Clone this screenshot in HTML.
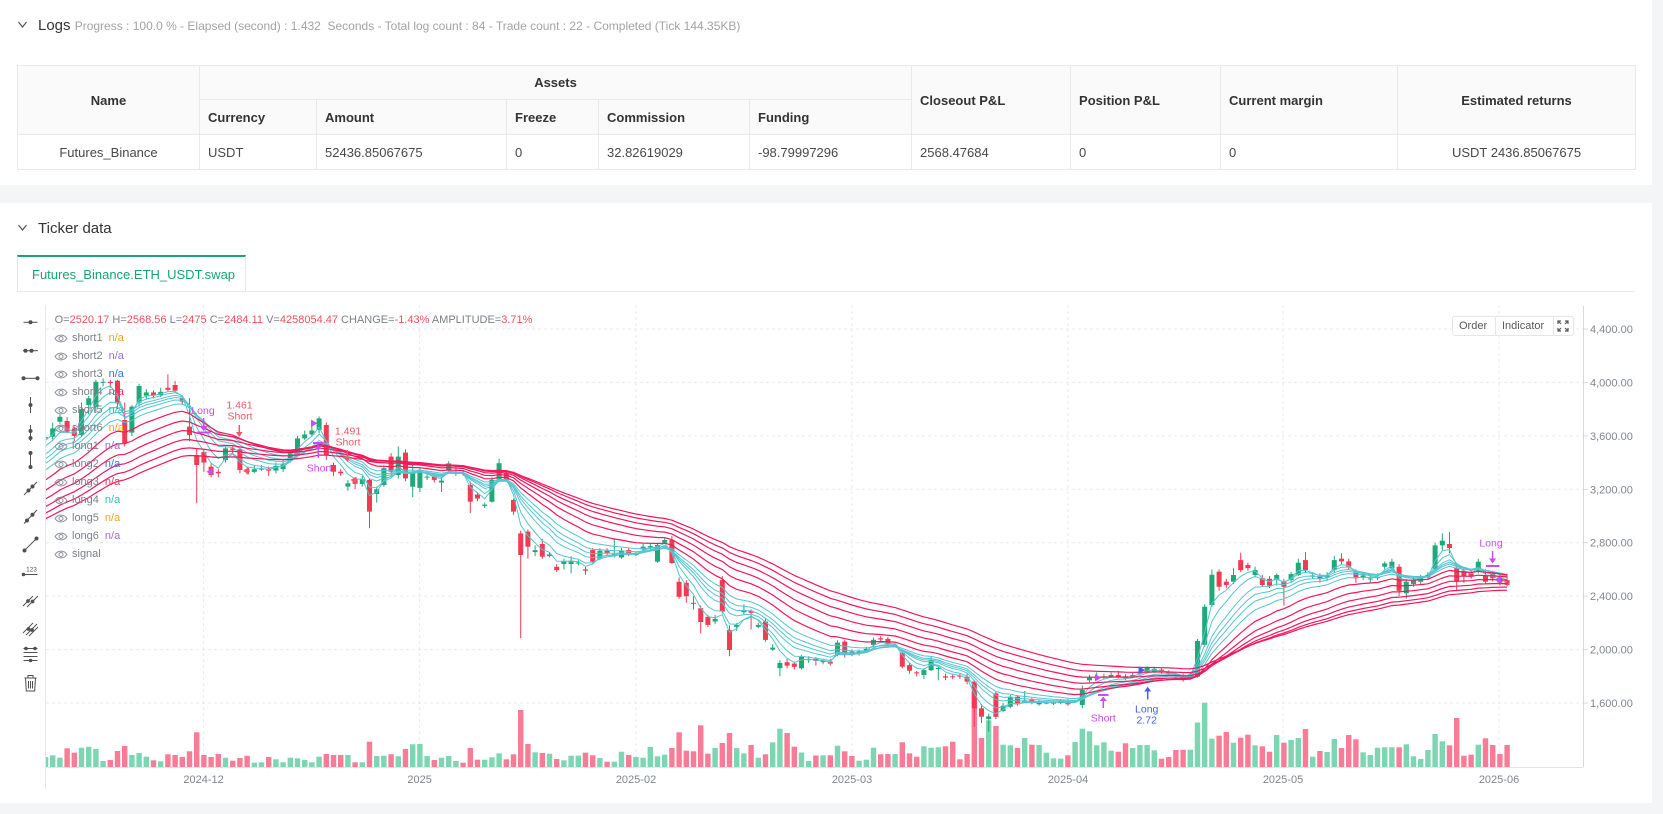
<!DOCTYPE html>
<html><head><meta charset="utf-8"><title>Ticker chart</title>
<style>
*{margin:0;padding:0;box-sizing:border-box}
html,body{width:1663px;height:814px;overflow:hidden}
body{background:#f4f5f7;font-family:"Liberation Sans",Arial,sans-serif;position:relative}
.card{position:absolute;left:0;width:1652px;background:#fff}
.t{position:absolute;white-space:nowrap}
table.tb{position:absolute;left:17px;top:65px;border-collapse:collapse;table-layout:fixed;width:1618px;font-size:13px;color:#484848}
.tb td,.tb th{border:1px solid #e9e9e9;padding:0 8px;text-align:left;overflow:hidden;white-space:nowrap}
.tb th{background:#fafafa;font-weight:bold;color:#333}
.tb .c{text-align:center}
.lg{position:absolute;left:54px;height:14px;font-size:11px;line-height:14px;color:#7b7f8b;white-space:nowrap;display:flex;align-items:center}
.lg svg{margin-right:4px}
.lg b{font-weight:normal;margin-left:6px}
.ohlc{position:absolute;left:54.6px;top:313px;font-size:11px;line-height:14px;color:#7b7f8b;white-space:nowrap}
.ohlc i{font-style:normal;color:#f0505c}
</style></head><body>
<div class="card" style="top:0;height:185px"></div>
<div class="card" style="top:203px;height:600px"></div>

<svg class="t" style="left:17px;top:20px" width="12" height="10"><polyline points="1.5,2 5.5,7 9.5,2" fill="none" stroke="#555" stroke-width="1.2"/></svg>
<div class="t" style="left:38px;top:16px;font-size:15px;color:#333;line-height:20px">Logs <span style="font-size:12px;color:#a3a3a3">Progress : 100.0 % - Elapsed (second) : 1.432&nbsp; Seconds - Total log count : 84 - Trade count : 22 - Completed (Tick 144.35KB)</span></div>

<table class="tb">
<colgroup><col style="width:182px"><col style="width:117px"><col style="width:190px"><col style="width:92px"><col style="width:151px"><col style="width:162px"><col style="width:159px"><col style="width:150px"><col style="width:177px"><col style="width:238px"></colgroup>
<tr style="height:34px"><th rowspan="2" class="c">Name</th><th colspan="5" class="c">Assets</th><th rowspan="2">Closeout P&amp;L</th><th rowspan="2">Position P&amp;L</th><th rowspan="2">Current margin</th><th rowspan="2" class="c">Estimated returns</th></tr>
<tr style="height:35px"><th>Currency</th><th>Amount</th><th>Freeze</th><th>Commission</th><th>Funding</th></tr>
<tr style="height:35px"><td class="c">Futures_Binance</td><td>USDT</td><td>52436.85067675</td><td>0</td><td>32.82619029</td><td>-98.79997296</td><td>2568.47684</td><td>0</td><td>0</td><td class="c">USDT 2436.85067675</td></tr>
</table>

<svg class="t" style="left:17px;top:223px" width="12" height="10"><polyline points="1.5,2 5.5,7 9.5,2" fill="none" stroke="#555" stroke-width="1.2"/></svg>
<div class="t" style="left:38px;top:219px;font-size:15px;color:#333;line-height:20px">Ticker data</div>

<div class="t" style="left:17px;top:255px;width:229px;height:37px;border-top:2px solid #17a673;border-left:1px solid #e8e8e8;border-right:1px solid #e8e8e8;color:#17a673;font-size:13px;line-height:35px;padding-left:14px">Futures_Binance.ETH_USDT.swap</div>
<div class="t" style="left:17px;top:291px;width:1618px;height:1px;background:#e8e8e8"></div>

<svg class="t" style="left:0;top:0" width="1663" height="814" font-family="Liberation Sans, Arial, sans-serif">
<defs><clipPath id="pc"><rect x="46" y="305" width="1537" height="462"/></clipPath></defs>
<g stroke="#e9ebef" stroke-width="1" stroke-dasharray="3,3">
<line x1="46" y1="329" x2="1583" y2="329"/><line x1="46" y1="382.4" x2="1583" y2="382.4"/><line x1="46" y1="435.9" x2="1583" y2="435.9"/><line x1="46" y1="489.3" x2="1583" y2="489.3"/><line x1="46" y1="542.7" x2="1583" y2="542.7"/><line x1="46" y1="596.1" x2="1583" y2="596.1"/><line x1="46" y1="649.6" x2="1583" y2="649.6"/><line x1="46" y1="703" x2="1583" y2="703"/>
<line x1="203.6" y1="305" x2="203.6" y2="767"/><line x1="419.6" y1="305" x2="419.6" y2="767"/><line x1="636" y1="305" x2="636" y2="767"/><line x1="852" y1="305" x2="852" y2="767"/><line x1="1068" y1="305" x2="1068" y2="767"/><line x1="1283" y1="305" x2="1283" y2="767"/><line x1="1499" y1="305" x2="1499" y2="767"/>
</g>
<line x1="45.5" y1="305" x2="45.5" y2="789" stroke="#e4e6ea"/>
<line x1="1583.5" y1="306" x2="1583.5" y2="767" stroke="#d6d9de"/>
<line x1="45.5" y1="767.5" x2="1583.5" y2="767.5" stroke="#e2e4e8"/>
<g stroke="#d6d9de"><line x1="1583" y1="329" x2="1588" y2="329"/><line x1="1583" y1="382.4" x2="1588" y2="382.4"/><line x1="1583" y1="435.9" x2="1588" y2="435.9"/><line x1="1583" y1="489.3" x2="1588" y2="489.3"/><line x1="1583" y1="542.7" x2="1588" y2="542.7"/><line x1="1583" y1="596.1" x2="1588" y2="596.1"/><line x1="1583" y1="649.6" x2="1588" y2="649.6"/><line x1="1583" y1="703" x2="1588" y2="703"/></g>
<g font-size="11" fill="#80858f">
<text x="1590" y="333">4,400.00</text><text x="1590" y="386.4">4,000.00</text><text x="1590" y="439.9">3,600.00</text><text x="1590" y="493.3">3,200.00</text><text x="1590" y="546.7">2,800.00</text><text x="1590" y="600.1">2,400.00</text><text x="1590" y="653.6">2,000.00</text><text x="1590" y="707">1,600.00</text>
</g>
<g font-size="11" fill="#80858f" text-anchor="middle">
<text x="203.6" y="783">2024-12</text><text x="419.6" y="783">2025</text><text x="636" y="783">2025-02</text><text x="852" y="783">2025-03</text><text x="1068" y="783">2025-04</text><text x="1283" y="783">2025-05</text><text x="1499" y="783">2025-06</text>
</g>
<g id="gc" clip-path="url(#pc)"></g>

<!-- markers -->
<g font-size="10.5" text-anchor="middle">
<text x="203" y="414" fill="#c94df2">Long</text>
<line x1="203.6" y1="418" x2="203.6" y2="428" stroke="#c94df2" stroke-width="1.5"/>
<path d="M199.6,426 L203.6,431 L207.6,426Z" fill="#c94df2"/>
<line x1="197" y1="432.5" x2="210.5" y2="432.5" stroke="#c94df2" stroke-width="2"/>
<text x="239.5" y="408.5" fill="#f2566a">1.461</text>
<text x="240" y="419.5" fill="#f2566a">Short</text>
<line x1="239.3" y1="425" x2="239.3" y2="434" stroke="#f2566a" stroke-width="1.5"/>
<path d="M236,432 L239.3,437 L242.6,432Z" fill="#f2566a"/>
<text x="348" y="434.5" fill="#f2566a">1.491</text>
<text x="348" y="445.5" fill="#f2566a">Short</text>
<line x1="347.3" y1="450" x2="347.3" y2="459" stroke="#f2566a" stroke-width="1.5"/>
<path d="M344,457 L347.3,462 L350.6,457Z" fill="#f2566a"/>
<path d="M311,419.5 L317.5,423.3 L311,427Z" fill="#c94df2"/>
<line x1="313" y1="443" x2="323.5" y2="443" stroke="#c94df2" stroke-width="2"/>
<path d="M314.8,449 L318.3,444.5 L321.8,449Z" fill="#c94df2"/>
<line x1="318.3" y1="447" x2="318.3" y2="458" stroke="#c94df2" stroke-width="1.5"/>
<text x="319.3" y="471.3" fill="#c94df2">Short</text>
<path d="M212.5,468 L206.5,471.7 L212.5,475.5Z" fill="#c94df2"/>
<path d="M249,467.5 L243,471 L249,474.5Z" fill="#f2566a"/>
<path d="M356.5,476.5 L350.5,480 L356.5,483.5Z" fill="#f2566a"/>
<path d="M1095,674 L1101.5,677.7 L1095,681.5Z" fill="#c94df2"/>
<line x1="1098" y1="695" x2="1108.5" y2="695" stroke="#c94df2" stroke-width="2"/>
<path d="M1099.8,701 L1103.3,696.5 L1106.8,701Z" fill="#c94df2"/>
<line x1="1103.3" y1="699" x2="1103.3" y2="708" stroke="#c94df2" stroke-width="1.5"/>
<text x="1103.3" y="721.3" fill="#c94df2">Short</text>
<path d="M1138.5,666.3 L1145,670 L1138.5,673.8Z" fill="#4a5cf0"/>
<path d="M1144.2,691.5 L1147.7,686.7 L1151.2,691.5Z" fill="#4a5cf0"/>
<line x1="1147.7" y1="690" x2="1147.7" y2="699.5" stroke="#4a5cf0" stroke-width="1.5"/>
<text x="1146.7" y="712.7" fill="#4a5cf0">Long</text>
<text x="1146.7" y="723.7" fill="#4a5cf0">2.72</text>
<text x="1491" y="546.5" fill="#c94df2">Long</text>
<line x1="1492.6" y1="551" x2="1492.6" y2="560" stroke="#c94df2" stroke-width="1.5"/>
<path d="M1489.1,558.5 L1492.6,563.5 L1496.1,558.5Z" fill="#c94df2"/>
<line x1="1486" y1="566" x2="1499.5" y2="566" stroke="#c94df2" stroke-width="2"/>
<path d="M1501,576.3 L1495,580 L1501,583.7Z" fill="#c94df2"/>
</g>

<!-- toolbar icons -->
<g stroke="#505050" stroke-width="1" fill="#505050">
<line x1="23.5" y1="322.3" x2="37.5" y2="322.3"/><circle cx="30.5" cy="322.3" r="1.5"/>
<line x1="23" y1="350.7" x2="38" y2="350.7"/><circle cx="25.5" cy="350.7" r="1.5"/><circle cx="31.5" cy="350.7" r="1.5"/>
<line x1="23.5" y1="378.3" x2="37.5" y2="378.3"/><circle cx="23.5" cy="378.3" r="1.5"/><circle cx="37.5" cy="378.3" r="1.5"/>
<line x1="30.5" y1="397" x2="30.5" y2="413"/><circle cx="30.5" cy="405" r="1.5"/>
<line x1="30.5" y1="425" x2="30.5" y2="441"/><circle cx="30.5" cy="431" r="1.5"/><circle cx="30.5" cy="438" r="1.5"/>
<line x1="30.5" y1="453" x2="30.5" y2="467"/><circle cx="30.5" cy="453" r="1.5"/><circle cx="30.5" cy="467" r="1.5"/>
<line x1="24" y1="495" x2="37" y2="482"/><circle cx="28.5" cy="490.5" r="1.5"/><circle cx="32.5" cy="486.5" r="1.5"/>
<line x1="24" y1="523.5" x2="37" y2="510"/><circle cx="27" cy="520.5" r="1.5"/><circle cx="32.5" cy="514.8" r="1.5"/>
<line x1="24.5" y1="550.5" x2="36.5" y2="538.5"/><circle cx="24.5" cy="550.5" r="1.5"/><circle cx="36.5" cy="538.5" r="1.5"/>
<line x1="23.5" y1="574.5" x2="37.5" y2="574.5"/><circle cx="23.5" cy="574.5" r="1.3"/>
<line x1="23" y1="606" x2="33" y2="596"/><line x1="27" y1="607" x2="38" y2="596"/><circle cx="28" cy="601" r="1.4"/><circle cx="32.5" cy="601.5" r="1.4"/>
<line x1="23" y1="633" x2="33" y2="623"/><line x1="26" y1="635" x2="37" y2="624"/><line x1="29" y1="636" x2="38" y2="627"/><circle cx="28.5" cy="629" r="1.4"/><circle cx="32" cy="630" r="1.4"/>
<line x1="23.5" y1="648.5" x2="37.5" y2="648.5"/><line x1="23.5" y1="652.5" x2="37.5" y2="652.5"/><line x1="23.5" y1="656.5" x2="37.5" y2="656.5"/><line x1="23.5" y1="660.5" x2="37.5" y2="660.5"/><circle cx="26" cy="648.5" r="1.3"/><circle cx="35" cy="648.5" r="1.3"/><circle cx="30.5" cy="660.5" r="1.3"/>
<g fill="none"><path d="M24.5,678 L36.5,678 M28,678 L28,675.5 L33,675.5 L33,678 M25.5,678 L26.3,691 L34.7,691 L35.5,678 M28.5,681 L28.5,688.5 M30.5,681 L30.5,688.5 M32.5,681 L32.5,688.5"/></g>
</g>
<text x="31.5" y="571.5" font-size="6.5" fill="#505050" text-anchor="middle">123</text>
</svg>

<div class="ohlc">O=<i>2520.17</i> H=<i>2568.56</i> L=<i>2475</i> C=<i>2484.11</i> V=<i>4258054.47</i> CHANGE=<i>-1.43%</i> AMPLITUDE=<i>3.71%</i></div>

<div class="lg" style="top:331.3px"><svg width="14" height="9"><path d="M1,4.5 C4,0 10,0 13,4.5 C10,9 4,9 1,4.5Z" fill="none" stroke="#8b8f99"/><circle cx="7" cy="4.5" r="2" fill="none" stroke="#8b8f99"/></svg>short1<b style="color:#f7a21b">n/a</b></div>
<div class="lg" style="top:349.3px"><svg width="14" height="9"><path d="M1,4.5 C4,0 10,0 13,4.5 C10,9 4,9 1,4.5Z" fill="none" stroke="#8b8f99"/><circle cx="7" cy="4.5" r="2" fill="none" stroke="#8b8f99"/></svg>short2<b style="color:#9b6fd8">n/a</b></div>
<div class="lg" style="top:367.3px"><svg width="14" height="9"><path d="M1,4.5 C4,0 10,0 13,4.5 C10,9 4,9 1,4.5Z" fill="none" stroke="#8b8f99"/><circle cx="7" cy="4.5" r="2" fill="none" stroke="#8b8f99"/></svg>short3<b style="color:#3072f5">n/a</b></div>
<div class="lg" style="top:385.3px"><svg width="14" height="9"><path d="M1,4.5 C4,0 10,0 13,4.5 C10,9 4,9 1,4.5Z" fill="none" stroke="#8b8f99"/><circle cx="7" cy="4.5" r="2" fill="none" stroke="#8b8f99"/></svg>short4<b style="color:#f0386b">n/a</b></div>
<div class="lg" style="top:403.3px"><svg width="14" height="9"><path d="M1,4.5 C4,0 10,0 13,4.5 C10,9 4,9 1,4.5Z" fill="none" stroke="#8b8f99"/><circle cx="7" cy="4.5" r="2" fill="none" stroke="#8b8f99"/></svg>short5<b style="color:#2cc2b5">n/a</b></div>
<div class="lg" style="top:421.3px"><svg width="14" height="9"><path d="M1,4.5 C4,0 10,0 13,4.5 C10,9 4,9 1,4.5Z" fill="none" stroke="#8b8f99"/><circle cx="7" cy="4.5" r="2" fill="none" stroke="#8b8f99"/></svg>short6<b style="color:#f7a21b">n/a</b></div>
<div class="lg" style="top:439.3px"><svg width="14" height="9"><path d="M1,4.5 C4,0 10,0 13,4.5 C10,9 4,9 1,4.5Z" fill="none" stroke="#8b8f99"/><circle cx="7" cy="4.5" r="2" fill="none" stroke="#8b8f99"/></svg>long1<b style="color:#9b6fd8">n/a</b></div>
<div class="lg" style="top:457.3px"><svg width="14" height="9"><path d="M1,4.5 C4,0 10,0 13,4.5 C10,9 4,9 1,4.5Z" fill="none" stroke="#8b8f99"/><circle cx="7" cy="4.5" r="2" fill="none" stroke="#8b8f99"/></svg>long2<b style="color:#3072f5">n/a</b></div>
<div class="lg" style="top:475.3px"><svg width="14" height="9"><path d="M1,4.5 C4,0 10,0 13,4.5 C10,9 4,9 1,4.5Z" fill="none" stroke="#8b8f99"/><circle cx="7" cy="4.5" r="2" fill="none" stroke="#8b8f99"/></svg>long3<b style="color:#f0386b">n/a</b></div>
<div class="lg" style="top:493.3px"><svg width="14" height="9"><path d="M1,4.5 C4,0 10,0 13,4.5 C10,9 4,9 1,4.5Z" fill="none" stroke="#8b8f99"/><circle cx="7" cy="4.5" r="2" fill="none" stroke="#8b8f99"/></svg>long4<b style="color:#2cc2b5">n/a</b></div>
<div class="lg" style="top:511.3px"><svg width="14" height="9"><path d="M1,4.5 C4,0 10,0 13,4.5 C10,9 4,9 1,4.5Z" fill="none" stroke="#8b8f99"/><circle cx="7" cy="4.5" r="2" fill="none" stroke="#8b8f99"/></svg>long5<b style="color:#f7a21b">n/a</b></div>
<div class="lg" style="top:529.3px"><svg width="14" height="9"><path d="M1,4.5 C4,0 10,0 13,4.5 C10,9 4,9 1,4.5Z" fill="none" stroke="#8b8f99"/><circle cx="7" cy="4.5" r="2" fill="none" stroke="#8b8f99"/></svg>long6<b style="color:#9b6fd8">n/a</b></div>
<div class="lg" style="top:547.3px"><svg width="14" height="9"><path d="M1,4.5 C4,0 10,0 13,4.5 C10,9 4,9 1,4.5Z" fill="none" stroke="#8b8f99"/><circle cx="7" cy="4.5" r="2" fill="none" stroke="#8b8f99"/></svg>signal</div>

<div class="t" style="left:1452px;top:316px;width:122px;height:20px;border:1px solid #e6e6e6;border-radius:3px;background:#fff;font-size:11px;color:#5a5a5a;line-height:18px">
<span style="position:absolute;left:6px">Order</span>
<span style="position:absolute;left:42px;top:0;width:1px;height:18px;background:#e6e6e6"></span>
<span style="position:absolute;left:49px">Indicator</span>
<span style="position:absolute;left:100px;top:0;width:1px;height:18px;background:#e6e6e6"></span>
<svg style="position:absolute;left:104px;top:3px" width="12" height="12"><g stroke="#555" stroke-width="1.2" fill="none"><path d="M1,4 L1,1 L4,1 M1,1 L4,4"/><path d="M8,1 L11,1 L11,4 M11,1 L8,4"/><path d="M1,8 L1,11 L4,11 M1,11 L4,8"/><path d="M11,8 L11,11 L8,11 M11,11 L8,8"/></g></svg>
</div>

<script>
(function(){
var W=[2450,2360,2350,2415,2415,2440,2420,2440,2370,2385,2440,2475,2465,2630,2605,2610,2605,2645,2650,2745,2665,2620,2525,2535,2440,2480,2510,2570,2640,2660,2520,
2510,2490,2460,2400,2420,2720,2895,2960,3125,3185,3370,3245,3185,3060,3090,3130,3075,3210,3110,3070,3355,3330,3395,3360,3415,3325,3655,3580];
var D=[[3580,3620,3540,3590],
[3594,3700,3560,3656],[3706,3760,3690,3743],[3711,3740,3620,3631],[3656,3670,3560,3600],[3606,3850,3590,3800],
[3831,3900,3760,3881],[3818,4020,3780,4005],[4000,4030,3970,4005],[4005,4020,3960,3995],[4013,4020,3800,3844],
[3719,3850,3520,3545],[3624,3830,3600,3818],[3848,3990,3820,3973],[3900,3950,3870,3925],[3925,3940,3880,3905],
[3905,3960,3890,3930],[3960,4060,3930,3945],[3981,4010,3920,3938],[3881,3900,3840,3856],[3669,3881,3560,3606],
[3457,3500,3095,3382],[3480,3500,3330,3400],[3369,3400,3290,3307],[3330,3350,3290,3320],[3419,3520,3400,3506],
[3506,3530,3470,3495],[3499,3510,3320,3344],[3350,3370,3310,3330],[3330,3380,3320,3350],[3350,3380,3340,3355],
[3355,3370,3300,3340],[3340,3400,3320,3375],[3350,3420,3330,3390],[3419,3490,3400,3469],[3457,3600,3440,3581],
[3581,3640,3570,3610],[3610,3700,3600,3640],[3644,3745,3620,3731],[3681,3700,3420,3457],[3382,3400,3300,3332],
[3332,3350,3300,3320],[3220,3270,3190,3245],[3280,3290,3200,3240],[3240,3300,3220,3275],[3270,3280,2908,3033],
[3165,3220,3100,3200],[3232,3380,3220,3358],[3445,3470,3310,3332],[3307,3520,3280,3445],[3475,3500,3260,3282],
[3220,3400,3140,3332],[3210,3360,3180,3345],[3290,3340,3270,3295],[3295,3310,3250,3270],[3250,3290,3180,3265],
[3344,3410,3320,3394],[3315,3370,3300,3322],[3322,3340,3300,3318],[3232,3260,3022,3107],[3160,3180,3110,3130],
[3075,3100,3060,3085],[3107,3290,3100,3270],[3270,3430,3260,3395],[3320,3340,3260,3270],[3120,3130,3010,3033],
[2870,2890,2086,2708],[2883,2900,2680,2770],[2730,2780,2700,2745],[2790,2830,2680,2695],[2700,2730,2690,2712],
[2620,2640,2580,2595],[2640,2680,2600,2660],[2640,2700,2570,2665],[2650,2670,2630,2652],[2600,2620,2560,2590],
[2745,2760,2640,2658],[2680,2760,2670,2740],[2740,2760,2700,2720],[2700,2830,2690,2715],[2690,2760,2680,2740],
[2745,2760,2700,2710],[2712,2730,2700,2715],[2750,2790,2740,2770],[2765,2800,2750,2775],[2658,2800,2650,2783],
[2800,2840,2790,2820],[2820,2850,2640,2648],[2507,2540,2380,2395],[2500,2520,2350,2400],[2350,2400,2300,2345],
[2310,2330,2120,2207],[2245,2260,2170,2184],[2210,2260,2190,2230],[2520,2550,2270,2284],[2146,2180,1950,1997],
[2170,2200,2140,2185],[2280,2340,2260,2295],[2290,2300,2150,2275],[2170,2200,2160,2185],[2210,2230,2060,2072],
[2000,2040,1990,2015],[1860,1920,1800,1900],[1905,1930,1860,1880],[1895,1910,1850,1870],[1860,1960,1850,1946],
[1920,1950,1900,1930],[1930,1945,1880,1915],[1905,1930,1890,1915],[1910,1930,1880,1895],[1960,2070,1950,2052],
[2060,2070,1940,1960],[1985,2000,1950,1965],[1970,2000,1955,1985],[1990,2020,1975,2005],[2035,2090,2020,2073],
[2085,2100,2060,2075],[2080,2095,2030,2040],[2035,2050,2020,2037],[1976,2000,1860,1872],[1884,1900,1820,1842],
[1830,1840,1800,1822],[1810,1860,1780,1846],[1846,1950,1840,1920],[1860,1880,1770,1862],[1800,1820,1770,1790],
[1800,1820,1780,1795],[1805,1820,1780,1800],[1797,1820,1740,1760],[1760,1770,1420,1560],[1560,1590,1450,1497],
[1480,1520,1385,1500],[1672,1690,1480,1497],[1540,1600,1530,1580],[1572,1660,1560,1647],[1647,1660,1580,1590],
[1605,1690,1600,1620],[1625,1640,1590,1605],[1590,1620,1580,1605],[1600,1615,1590,1603],[1600,1615,1585,1603],
[1600,1630,1590,1615],[1615,1630,1580,1590],[1610,1625,1600,1612],[1585,1730,1560,1697],[1770,1810,1755,1790],
[1790,1830,1780,1793],[1790,1820,1780,1800],[1795,1830,1790,1810],[1810,1840,1785,1795],[1800,1815,1770,1785],
[1795,1825,1785,1810],[1820,1850,1810,1835],[1836,1875,1825,1865],[1835,1870,1825,1855],[1850,1860,1820,1830],
[1830,1845,1815,1828],[1815,1830,1790,1800],[1810,1820,1760,1772],[1790,1830,1780,1815],[1797,2080,1790,2065],
[2035,2340,2020,2321],[2334,2600,2320,2560],[2583,2600,2440,2471],[2508,2530,2460,2483],[2508,2610,2490,2558],
[2670,2725,2580,2595],[2633,2650,2590,2610],[2558,2620,2540,2595],[2535,2560,2470,2483],[2530,2550,2460,2478],
[2520,2570,2480,2558],[2508,2530,2330,2470],[2520,2580,2500,2565],[2558,2680,2550,2650],[2670,2730,2580,2595],
[2545,2580,2530,2555],[2550,2570,2500,2530],[2540,2580,2520,2558],[2595,2700,2580,2670],[2680,2720,2640,2660],
[2660,2680,2600,2620],[2583,2600,2500,2533],[2540,2580,2520,2555],[2530,2560,2500,2532],[2540,2570,2520,2542],
[2620,2660,2600,2645],[2610,2680,2590,2658],[2620,2640,2400,2440],[2421,2530,2380,2508],[2490,2550,2470,2520],
[2508,2560,2490,2545],[2540,2580,2520,2560],[2600,2800,2590,2780],[2780,2870,2740,2815],[2790,2880,2720,2760],
[2610,2640,2440,2508],[2590,2610,2500,2550],[2570,2600,2530,2545],[2590,2680,2570,2658],[2558,2600,2490,2508],
[2570,2590,2510,2533],[2540,2570,2480,2500],[2520.17,2568.56,2475,2484.11]];
var V=[10,
11.7,9.3,18.7,14.3,19.3,20.3,18,6,7,16,21,12,14,10.3,6.7,5.7,12.7,12,10,15.7,34.7,12,10,13,9.3,6.3,9,11.3,4.3,4.7,
10,7.7,4.7,9.3,8.7,7,4.7,10.3,13,12,12,12,4.7,4.7,25.3,11,11.3,12.7,10.7,18,22.7,23,11,7,9.3,11,6,4.3,19,7.3,
7.3,9.7,13.7,7.7,12.7,57,23,14.7,14,13.3,8,6.7,11.3,11.3,14.3,11.7,9,5.3,5.3,15.3,12,10,9.3,20,10.7,12.3,19,34.7,
16.3,15.7,41.7,13.3,19,24,34,19,13.6,22,9.3,12.7,24.7,38.3,34,20.3,14.5,6,11.5,11.7,11.7,21.3,15.7,11,6.3,7.3,
19.3,12.7,13,13,24.7,13.7,10.3,20.7,19.3,19.7,20.7,25.3,7.7,13,75,29,46.7,41,22.3,21.7,19,29,22.3,22,14.3,8.7,
8.3,11.7,25,38.3,35.7,21.7,24.7,16.3,15.3,23.7,19,22,22,16.7,8.3,10,17,17.3,17.3,44.5,64.3,28.3,31.3,35,24.3,29.3,
32.3,21.7,20.7,15.3,32,24.3,27,29,38,10.3,16,15,28,19,32,27.7,14.7,12,19.3,19.7,19.7,19.7,22.7,10.7,8,17,33,25.7,
21.7,49,11.3,12.3,22.3,28.7,22,13,22];
var X0=52.7,S=7.2;
function X(i){return X0+S*i;}
function Y(p){return 329+(4400-p)*0.13357;}
var cl=W.concat(D.map(function(d){return d[3];}));
var s='',j,i,d,up,x,h;
for(j=0;j<D.length;j++){i=j-1;d=D[j];up=d[3]>=d[0];h=V[j]||8;x=X(i);
 s+='<rect x="'+(x-2.7).toFixed(1)+'" y="'+(767-h).toFixed(1)+'" width="5.4" height="'+h+'" fill="'+(up?'#7dd5b2':'#fa7b95')+'"/>';}
for(j=0;j<D.length;j++){i=j-1;d=D[j];up=d[3]>=d[0];x=X(i);var col=up?'#20a878':'#f23b52';
 var yt=Y(Math.max(d[0],d[3])),yb=Y(Math.min(d[0],d[3])),bh=Math.max(1,yb-yt);
 s+='<line x1="'+x.toFixed(1)+'" y1="'+Y(d[1]).toFixed(1)+'" x2="'+x.toFixed(1)+'" y2="'+Y(d[2]).toFixed(1)+'" stroke="'+col+'" stroke-width="1"/>';
 s+='<rect x="'+(x-2.5).toFixed(1)+'" y="'+yt.toFixed(1)+'" width="5" height="'+bh.toFixed(1)+'" fill="'+col+'"/>';}
function ema(n){var a=2/(n+1),e=cl[0],r=[e];for(var k=1;k<cl.length;k++){e=a*cl[k]+(1-a)*e;r.push(e);}return r;}
function line(arr,col,w){var p=[];for(var k=57;k<arr.length;k++){p.push(X(k-60).toFixed(1)+','+Y(arr[k]).toFixed(1));}
 return '<polyline points="'+p.join(' ')+'" fill="none" stroke="'+col+'" stroke-width="'+w+'" stroke-linejoin="round"/>';}
[3,5,8,10,12,15].forEach(function(n){s+=line(ema(n),'#55c5d1',1);});
[20,26,32,38,44,50].forEach(function(n){s+=line(ema(n),'#f2185b',1.2);});
document.getElementById('gc').innerHTML=s;
})();
</script>
</body></html>
